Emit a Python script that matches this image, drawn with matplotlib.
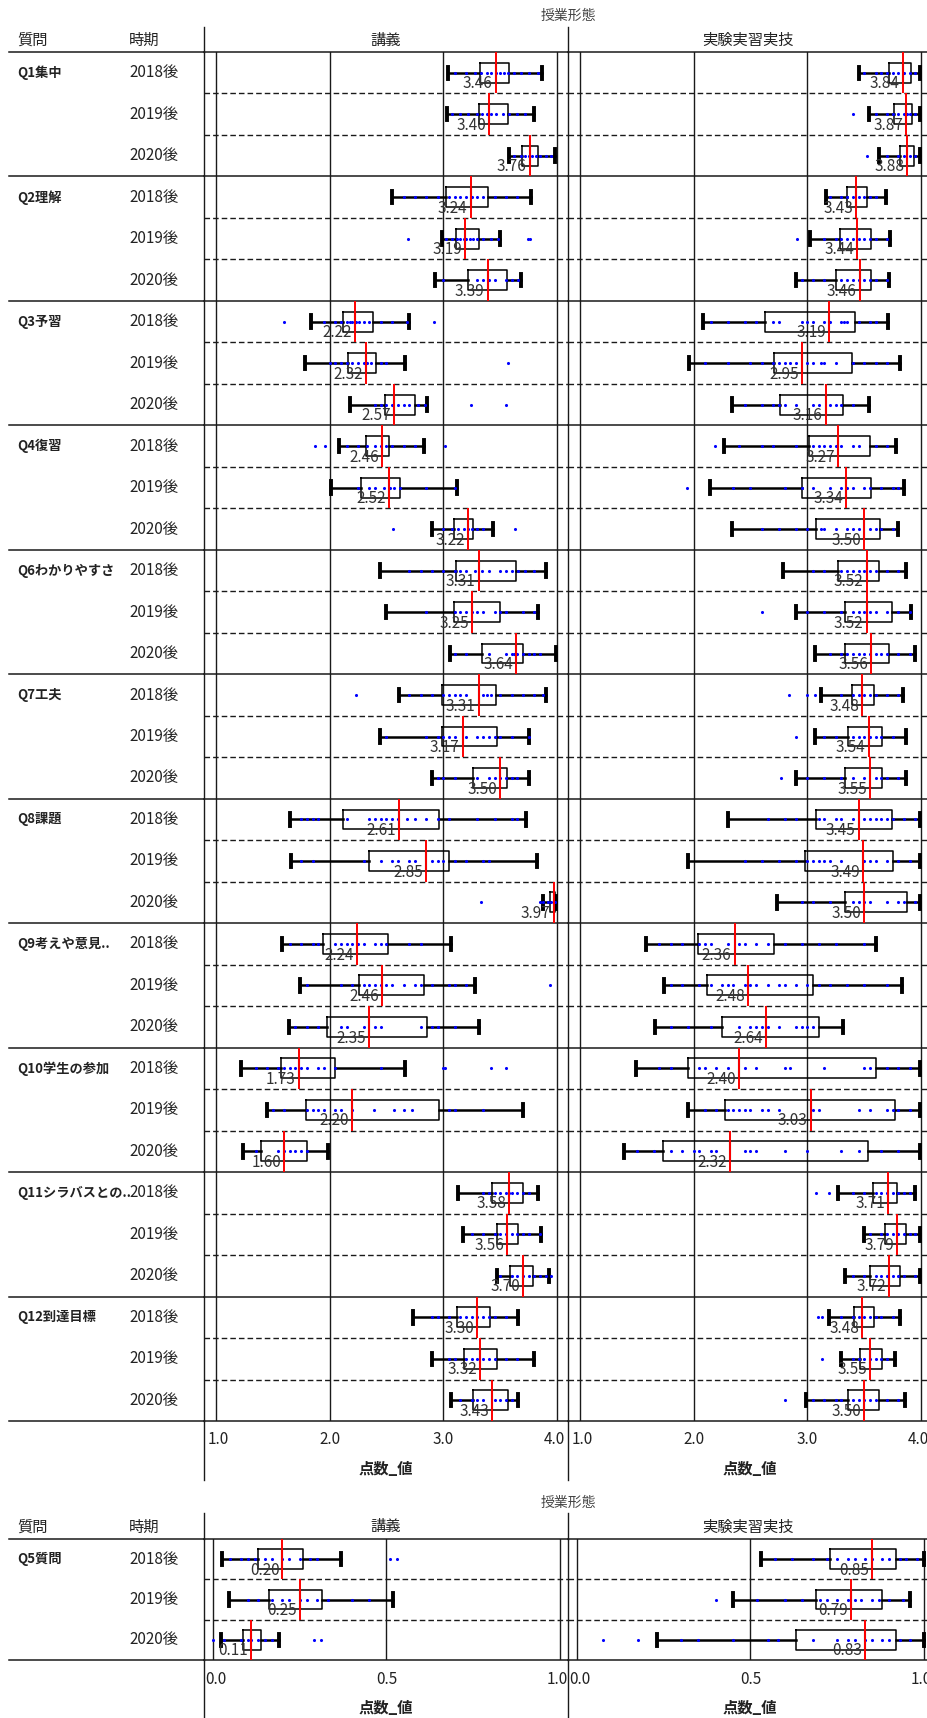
import matplotlib
matplotlib.use("Agg")
import matplotlib.pyplot as plt
from matplotlib.lines import Line2D

plt.rcParams['font.family'] = ['Noto Sans CJK JP', 'DejaVu Sans']

# ---------------- data ----------------
questions = ["Q1集中", "Q2理解", "Q3予習", "Q4復習", "Q6わかりやすさ", "Q7工夫",
             "Q8課題", "Q9考えや意見..", "Q10学生の参加", "Q11シラバスとの..", "Q12到達目標"]
years = ["2018後", "2019後", "2020後"]
form_title = "授業形態"
forms = ["講義", "実験実習実技"]
hdr_q, hdr_t = "質問", "時期"
xlab = "点数_値"

# 講義 (rows: question x year) : whisker low, q1, median, q3, whisker high
lec_lo  = [3.04,3.03,3.58, 2.55,2.99,2.93, 1.84,1.78,2.18, 2.08,2.01,2.90, 2.44,2.50,3.06, 2.61,2.44,2.90,
           1.65,1.66,3.88, 1.58,1.74,1.64, 1.22,1.45,1.24, 3.13,3.17,3.47, 2.73,2.90,3.07]
lec_q1  = [3.32,3.31,3.69, 3.02,3.11,3.22, 2.12,2.16,2.49, 2.32,2.28,3.09, 3.11,3.09,3.34, 2.99,2.99,3.26,
           2.12,2.35,3.94, 1.94,2.26,1.98, 1.57,1.79,1.40, 3.43,3.47,3.59, 3.12,3.18,3.26]
lec_med = [3.46,3.40,3.76, 3.24,3.19,3.39, 2.22,2.32,2.57, 2.46,2.52,3.22, 3.31,3.25,3.64, 3.31,3.17,3.50,
           2.61,2.85,3.97, 2.24,2.46,2.35, 1.73,2.20,1.60, 3.58,3.56,3.70, 3.30,3.32,3.43]
lec_q3  = [3.58,3.57,3.83, 3.39,3.31,3.56, 2.38,2.41,2.75, 2.52,2.62,3.26, 3.64,3.50,3.70, 3.46,3.47,3.56,
           2.96,3.05,3.98, 2.51,2.83,2.86, 2.05,2.96,1.80, 3.70,3.66,3.79, 3.41,3.47,3.57]
lec_hi  = [3.87,3.80,3.98, 3.77,3.50,3.68, 2.70,2.66,2.86, 2.83,3.12,3.44, 3.90,3.83,3.99, 3.90,3.75,3.75,
           3.73,3.82,3.99, 3.07,3.28,3.31, 2.66,3.70,1.99, 3.83,3.86,3.93, 3.66,3.80,3.66]

lec_dots = [
    [3.10,3.20,3.28,3.33,3.38,3.42,3.46,3.50,3.53,3.57,3.62,3.68,3.75,3.83],
    [3.08,3.15,3.22,3.30,3.34,3.38,3.42,3.46,3.52,3.58,3.65,3.72],
    [3.62,3.68,3.72,3.75,3.78,3.81,3.85,3.90,3.95],
    [2.65,2.75,2.85,2.95,3.05,3.10,3.15,3.20,3.25,3.30,3.35,3.45,3.55,3.65],
    [2.69,3.02,3.08,3.12,3.15,3.18,3.20,3.23,3.26,3.30,3.35,3.42,3.48,3.74,3.76],
    [3.00,3.30,3.35,3.40,3.45,3.55,3.60,3.66],
    [1.60,1.95,2.05,2.10,2.15,2.18,2.20,2.23,2.26,2.30,2.35,2.45,2.55,2.68,2.92],
    [2.00,2.05,2.10,2.15,2.20,2.25,2.30,2.33,2.36,2.45,2.50,3.57],
    [2.40,2.45,2.50,2.55,2.60,2.65,2.70,2.78,2.84,3.24,3.55],
    [1.87,1.96,2.15,2.25,2.33,2.40,2.45,2.50,2.55,2.65,2.75,3.01],
    [2.25,2.35,2.40,2.48,2.53,2.57,2.62,2.85,3.10],
    [2.56,3.00,3.08,3.13,3.18,3.22,3.25,3.30,3.35,3.63],
    [2.70,2.80,2.90,3.00,3.10,3.15,3.20,3.28,3.34,3.40,3.50,3.55,3.60,3.66,3.72,3.80],
    [2.85,3.10,3.15,3.20,3.25,3.30,3.35,3.45,3.50,3.55,3.70,3.80],
    [3.10,3.20,3.40,3.55,3.60,3.62,3.65,3.70,3.75,3.80,3.85],
    [2.23,2.70,2.80,2.90,3.00,3.05,3.10,3.15,3.20,3.35,3.38,3.42,3.50,3.60,3.70,3.80,3.88],
    [2.50,2.85,2.95,3.00,3.05,3.10,3.20,3.30,3.35,3.40,3.45,3.50,3.60,3.75],
    [2.95,3.00,3.10,3.30,3.40,3.45,3.50,3.55,3.60,3.65],
    [1.75,1.80,1.85,1.90,2.15,2.35,2.40,2.45,2.50,2.55,2.60,2.68,2.75,2.85,2.95,3.05,3.30,3.45,3.60,3.65],
    [1.75,1.85,2.30,2.45,2.55,2.60,2.70,2.75,2.90,2.95,3.00,3.10,3.20,3.35,3.40],
    [3.33,3.85,3.88,3.92,3.95,3.97,3.98],
    [1.65,1.75,1.85,1.90,2.05,2.10,2.15,2.20,2.25,2.30,2.40,2.45,2.50,2.70,2.80],
    [1.80,2.10,2.20,2.30,2.35,2.40,2.45,2.50,2.55,2.65,2.75,2.80,2.90,3.05,3.10,3.20,3.94],
    [1.70,1.80,1.90,2.10,2.15,2.30,2.40,2.45,2.80,2.90,2.95,3.10],
    [1.35,1.45,1.55,1.60,1.65,1.70,1.75,1.80,1.90,1.95,2.05,2.45,3.00,3.01,3.42,3.55],
    [1.50,1.60,1.80,1.85,1.90,1.95,2.05,2.10,2.20,2.39,2.57,2.65,2.72,3.05,3.10,3.35],
    [1.35,1.55,1.60,1.65,1.70,1.75,1.80],
    [3.35,3.40,3.45,3.50,3.55,3.58,3.60,3.65,3.70,3.75],
    [3.25,3.35,3.45,3.50,3.55,3.60,3.65,3.70,3.75,3.85],
    [3.50,3.60,3.65,3.70,3.75,3.80,3.85,3.90,3.95],
    [2.90,2.95,3.05,3.15,3.20,3.25,3.30,3.35,3.40,3.45,3.55],
    [3.05,3.10,3.20,3.25,3.30,3.35,3.40,3.45,3.55,3.65],
    [3.15,3.25,3.30,3.35,3.45,3.50,3.55,3.60],
]

# 実験実習実技
lab_lo  = [3.45,3.54,3.63, 3.16,3.02,2.90, 2.08,1.96,2.34, 2.27,2.14,2.34, 2.79,2.90,3.07, 3.12,3.07,2.90,
           2.30,1.95,2.73, 1.58,1.74,1.66, 1.49,1.95,1.39, 3.27,3.50,3.33, 3.19,3.30,2.99]
lab_q1  = [3.72,3.76,3.81, 3.35,3.29,3.25, 2.63,2.71,2.76, 3.01,2.95,3.08, 3.27,3.33,3.33, 3.39,3.36,3.33,
           3.08,2.98,3.33, 2.04,2.12,2.25, 1.95,2.28,1.73, 3.58,3.68,3.55, 3.41,3.46,3.36]
lab_med = [3.84,3.87,3.88, 3.43,3.44,3.46, 3.19,2.95,3.16, 3.27,3.34,3.50, 3.52,3.52,3.56, 3.48,3.54,3.55,
           3.45,3.49,3.50, 2.36,2.48,2.64, 2.40,3.03,2.32, 3.71,3.79,3.72, 3.48,3.55,3.50]
lab_q3  = [3.91,3.92,3.94, 3.52,3.56,3.56, 3.42,3.39,3.31, 3.55,3.56,3.64, 3.63,3.74,3.72, 3.59,3.66,3.66,
           3.74,3.75,3.88, 2.71,3.05,3.10, 3.60,3.77,3.53, 3.79,3.87,3.81, 3.59,3.66,3.63]
lab_hi  = [3.99,3.99,3.99, 3.69,3.73,3.72, 3.71,3.81,3.54, 3.78,3.85,3.80, 3.87,3.91,3.95, 3.84,3.87,3.87,
           3.99,3.99,3.99, 3.60,3.83,3.31, 3.99,3.99,3.99, 3.95,3.99,3.99, 3.81,3.77,3.86]

lab_dots = [
    [3.50,3.60,3.65,3.70,3.75,3.80,3.85,3.90,3.95],
    [3.40,3.60,3.70,3.75,3.80,3.85,3.88,3.90,3.95],
    [3.52,3.70,3.80,3.85,3.90,3.95],
    [3.20,3.30,3.35,3.40,3.45,3.50,3.55,3.60],
    [2.91,3.15,3.25,3.30,3.35,3.40,3.45,3.50,3.55,3.60,3.70],
    [2.95,3.05,3.15,3.30,3.35,3.40,3.45,3.50,3.55,3.60,3.70],
    [2.15,2.30,2.45,2.55,2.70,2.75,2.95,3.00,3.05,3.15,3.20,3.30,3.32,3.35,3.45,3.55,3.60],
    [2.10,2.30,2.50,2.60,2.70,2.75,2.80,2.85,2.90,3.00,3.05,3.12,3.15,3.25,3.40,3.50,3.60,3.70],
    [2.45,2.60,2.70,2.75,2.80,2.90,3.05,3.10,3.20,3.25,3.30,3.40],
    [2.19,2.40,2.60,2.70,2.90,3.05,3.10,3.15,3.20,3.25,3.30,3.40,3.45,3.60,3.70],
    [1.94,2.35,2.50,2.80,2.95,3.05,3.20,3.30,3.35,3.40,3.50,3.55,3.65,3.75,3.80],
    [2.60,2.75,2.90,3.00,3.12,3.15,3.25,3.35,3.40,3.45,3.55,3.60,3.65,3.75],
    [3.05,3.15,3.30,3.35,3.40,3.45,3.50,3.55,3.60,3.70,3.80],
    [2.60,3.00,3.15,3.30,3.40,3.45,3.50,3.55,3.60,3.70,3.80,3.90],
    [3.20,3.30,3.35,3.40,3.45,3.50,3.55,3.60,3.65,3.70,3.80,3.90],
    [2.84,3.00,3.07,3.30,3.40,3.45,3.50,3.55,3.60,3.70,3.80],
    [2.90,3.15,3.25,3.40,3.45,3.50,3.55,3.60,3.65,3.75],
    [2.77,3.00,3.15,3.30,3.40,3.50,3.60,3.65,3.70,3.80],
    [2.65,2.80,2.90,3.10,3.15,3.25,3.30,3.40,3.50,3.55,3.60,3.65,3.70,3.75,3.85,3.95],
    [2.45,2.60,2.75,2.90,3.00,3.05,3.10,3.15,3.20,3.30,3.50,3.55,3.60,3.70,3.80,3.90],
    [2.95,3.05,3.20,3.40,3.45,3.50,3.55,3.70,3.80,3.85,3.95],
    [1.70,1.80,1.90,2.05,2.10,2.15,2.30,2.40,2.45,2.55,2.65,2.80,2.95,3.10,3.25,3.50],
    [1.80,1.90,2.05,2.15,2.25,2.30,2.35,2.45,2.50,2.55,2.65,2.75,2.80,2.90,3.00,3.10,3.20,3.35,3.50,3.70],
    [1.80,1.95,2.15,2.40,2.50,2.55,2.60,2.65,2.75,2.90,2.95,3.00,3.05],
    [1.70,1.80,2.05,2.10,2.20,2.30,2.45,2.55,2.80,2.85,3.15,3.50,3.55,3.70,3.80,3.90],
    [2.10,2.20,2.30,2.35,2.40,2.45,2.50,2.60,2.65,2.75,3.05,3.10,3.45,3.55,3.70,3.75,3.80,3.90],
    [1.50,1.65,1.80,1.90,2.00,2.05,2.15,2.20,2.45,2.50,2.55,2.80,3.00,3.30,3.45,3.65,3.80],
    [3.08,3.19,3.40,3.50,3.60,3.65,3.70,3.75,3.80,3.85,3.90],
    [3.55,3.65,3.70,3.75,3.80,3.85,3.90,3.95],
    [3.40,3.50,3.60,3.65,3.70,3.75,3.80,3.85,3.95],
    [3.09,3.13,3.30,3.40,3.45,3.50,3.55,3.60,3.65,3.75],
    [3.13,3.40,3.45,3.50,3.55,3.60,3.65,3.70],
    [2.80,3.05,3.15,3.25,3.30,3.40,3.45,3.50,3.55,3.60,3.70,3.80],
]

# Q5 (0-1 scale)
q5_label = "Q5質問"
q5_lec_lo  = [0.026, 0.046, 0.022]
q5_lec_q1  = [0.13, 0.16, 0.085]
q5_lec_med = [0.20, 0.25, 0.11]
q5_lec_q3  = [0.26, 0.315, 0.138]
q5_lec_hi  = [0.37, 0.52, 0.19]
q5_lec_dots = [
    [0.05,0.08,0.10,0.12,0.15,0.17,0.20,0.22,0.25,0.28,0.30,0.51,0.53],
    [0.10,0.13,0.17,0.20,0.22,0.25,0.27,0.30,0.33,0.40,0.45],
    [0.00,0.03,0.08,0.10,0.11,0.13,0.15,0.17,0.29,0.31],
]
q5_lab_lo  = [0.53, 0.45, 0.23]
q5_lab_q1  = [0.73, 0.69, 0.63]
q5_lab_med = [0.85, 0.79, 0.83]
q5_lab_q3  = [0.92, 0.88, 0.92]
q5_lab_hi  = [1.00, 0.96, 1.00]
q5_lab_dots = [
    [0.57,0.62,0.68,0.72,0.75,0.78,0.80,0.83,0.85,0.88,0.90,0.93,0.95,0.98],
    [0.40,0.52,0.60,0.65,0.70,0.72,0.75,0.78,0.80,0.82,0.85,0.87,0.90,0.94],
    [0.075,0.175,0.30,0.35,0.45,0.55,0.58,0.68,0.75,0.78,0.80,0.83,0.85,0.88,0.90,0.93,0.96],
]

ticks_top = [1, 2, 3, 4]
ticklabels_top = ["1.0", "2.0", "3.0", "4.0"]
ticks_bot = [0, 0.5, 1.0]
ticklabels_bot = ["0.0", "0.5", "1.0"]

# ---------------- layout ----------------
W, H = 928, 1718
fig = plt.figure(figsize=(W / 100, H / 100), dpi=100)
TXT = '#222222'
LINE = '#1a1a1a'


def ax_at(x0, y0, x1, y1):
    return fig.add_axes([x0 / W, 1 - y1 / H, (x1 - x0) / W, (y1 - y0) / H])


def vline_px(x, y0, y1):
    fig.add_artist(Line2D([x / W, x / W], [1 - y0 / H, 1 - y1 / H], color=LINE, lw=1.0,
                          transform=fig.transFigure))


def ftext(x, y, s, **kw):
    fig.text(x / W, 1 - y / H, s, **kw)


def draw_panel(ax, lo, q1, med, q3, hi, dots, group, xlim, ticks, ticklabels):
    n = len(med)
    ax.set_xlim(*xlim)
    ax.set_ylim(n, 0)
    for s in ['top', 'bottom', 'right']:
        ax.spines[s].set_visible(False)
    ax.spines['left'].set_color(LINE)
    ax.spines['left'].set_linewidth(1.0)
    ax.set_xticks(ticks)
    ax.set_xticklabels([])
    ax.set_yticks([])
    ax.tick_params(axis='x', length=0)
    # tick labels: edge labels kept inside the panel
    tr = ax.get_xaxis_transform()
    for k, (t, lab) in enumerate(zip(ticks, ticklabels)):
        if k == 0:
            ha, dx = 'left', -8
        elif k == len(ticks) - 1:
            ha, dx = 'right', 8
        else:
            ha, dx = 'center', 0
        ax.annotate(lab, xy=(t, 0), xycoords=tr, xytext=(dx, -19), textcoords='offset pixels',
                    ha=ha, va='center', fontsize=11, color=TXT, annotation_clip=False)
    for t in ticks:
        ax.axvline(t, color=LINE, lw=1.0, zorder=1)
    for b in range(n + 1):
        if b % group == 0:
            ax.axhline(b, color=LINE, lw=1.1, zorder=1, clip_on=False)
        else:
            ax.axhline(b, color=LINE, lw=1.0, ls=(0, (4, 2.2)), zorder=1)
    stats = [dict(whislo=lo[i], q1=q1[i], med=med[i], q3=q3[i], whishi=hi[i], fliers=[])
             for i in range(n)]
    pos = [i + 0.5 for i in range(n)]
    ax.bxp(stats, positions=pos, widths=0.48, orientation='horizontal', showfliers=False,
           capwidths=0.3, manage_ticks=False, zorder=3,
           boxprops=dict(color='black', lw=1.1),
           whiskerprops=dict(color='black', lw=1.8),
           capprops=dict(color='black', lw=2.8),
           medianprops=dict(color='black', lw=1.5))
    for i in range(n):
        ax.scatter(dots[i], [pos[i]] * len(dots[i]), s=5, color='#0000ff', lw=0, zorder=4)
        ax.vlines(med[i], i, i + 1, color='red', lw=1.4, zorder=5)
        ax.annotate(f"{med[i]:.2f}", xy=(med[i], pos[i]), xytext=(-2.2, -8),
                    textcoords='offset points', ha='right', va='center',
                    fontsize=11, color='#333333', zorder=6)


def draw_labels(ax, qlabels, n, group):
    ax.set_xlim(9, 204.5)
    ax.set_ylim(n, 0)
    ax.axis('off')
    for b in range(0, n + 1, group):
        ax.axhline(b, color=LINE, lw=1.1, clip_on=False)
    for qi, q in enumerate(qlabels):
        ax.text(17, qi * group + 0.5, q, ha='left', va='center', fontsize=9.5,
                fontweight='bold', color=TXT)
        for j in range(group):
            ax.text(129, qi * group + j + 0.5, years[j], ha='left', va='center',
                    fontsize=11, color=TXT)


def header(y_title, y_hdr, y_top):
    ftext(568, y_title, form_title, ha='center', va='center', fontsize=10, color='#444444')
    ftext(17, y_hdr, hdr_q, ha='left', va='center', fontsize=11, color=TXT)
    ftext(129, y_hdr, hdr_t, ha='left', va='center', fontsize=11, color=TXT)
    ftext(386, y_hdr, forms[0], ha='center', va='center', fontsize=11, color=TXT)
    ftext(748, y_hdr, forms[1], ha='center', va='center', fontsize=11, color=TXT)
    vline_px(204.5, y_top, y_hdr + 12)
    vline_px(568.5, y_top, y_hdr + 12)


# ----- top panel -----
T0, T1 = 52, 1421
ax_l = ax_at(9, T0, 204.5, T1)
draw_labels(ax_l, questions, 33, 3)
ax1 = ax_at(204.5, T0, 568.5, T1)
draw_panel(ax1, lec_lo, lec_q1, lec_med, lec_q3, lec_hi, lec_dots, 3, (0.9, 4.1),
           ticks_top, ticklabels_top)
ax2 = ax_at(568.5, T0, 932.5, T1)
draw_panel(ax2, lab_lo, lab_q1, lab_med, lab_q3, lab_hi, lab_dots, 3, (0.9, 4.1),
           ticks_top, ticklabels_top)
header(16, 40, 27)
vline_px(204.5, T1, 1480)
vline_px(568.5, T1, 1480)
ftext(386, 1469, xlab, ha='center', va='center', fontsize=11, fontweight='bold', color=TXT)
ftext(750, 1469, xlab, ha='center', va='center', fontsize=11, fontweight='bold', color=TXT)

# ----- bottom panel -----
B0, B1 = 1539, 1660
bx_l = ax_at(9, B0, 204.5, B1)
draw_labels(bx_l, [q5_label], 3, 3)
bx1 = ax_at(204.5, B0, 568.5, B1)
draw_panel(bx1, q5_lec_lo, q5_lec_q1, q5_lec_med, q5_lec_q3, q5_lec_hi, q5_lec_dots, 3,
           (-0.025, 1.025), ticks_bot, ticklabels_bot)
bx2 = ax_at(568.5, B0, 932.5, B1)
draw_panel(bx2, q5_lab_lo, q5_lab_q1, q5_lab_med, q5_lab_q3, q5_lab_hi, q5_lab_dots, 3,
           (-0.025, 1.025), ticks_bot, ticklabels_bot)
header(1503, 1527, 1513)
vline_px(204.5, B1, 1718)
vline_px(568.5, B1, 1718)
ftext(386, 1708, xlab, ha='center', va='center', fontsize=11, fontweight='bold', color=TXT)
ftext(750, 1708, xlab, ha='center', va='center', fontsize=11, fontweight='bold', color=TXT)

fig.savefig("out.png", dpi=100)
